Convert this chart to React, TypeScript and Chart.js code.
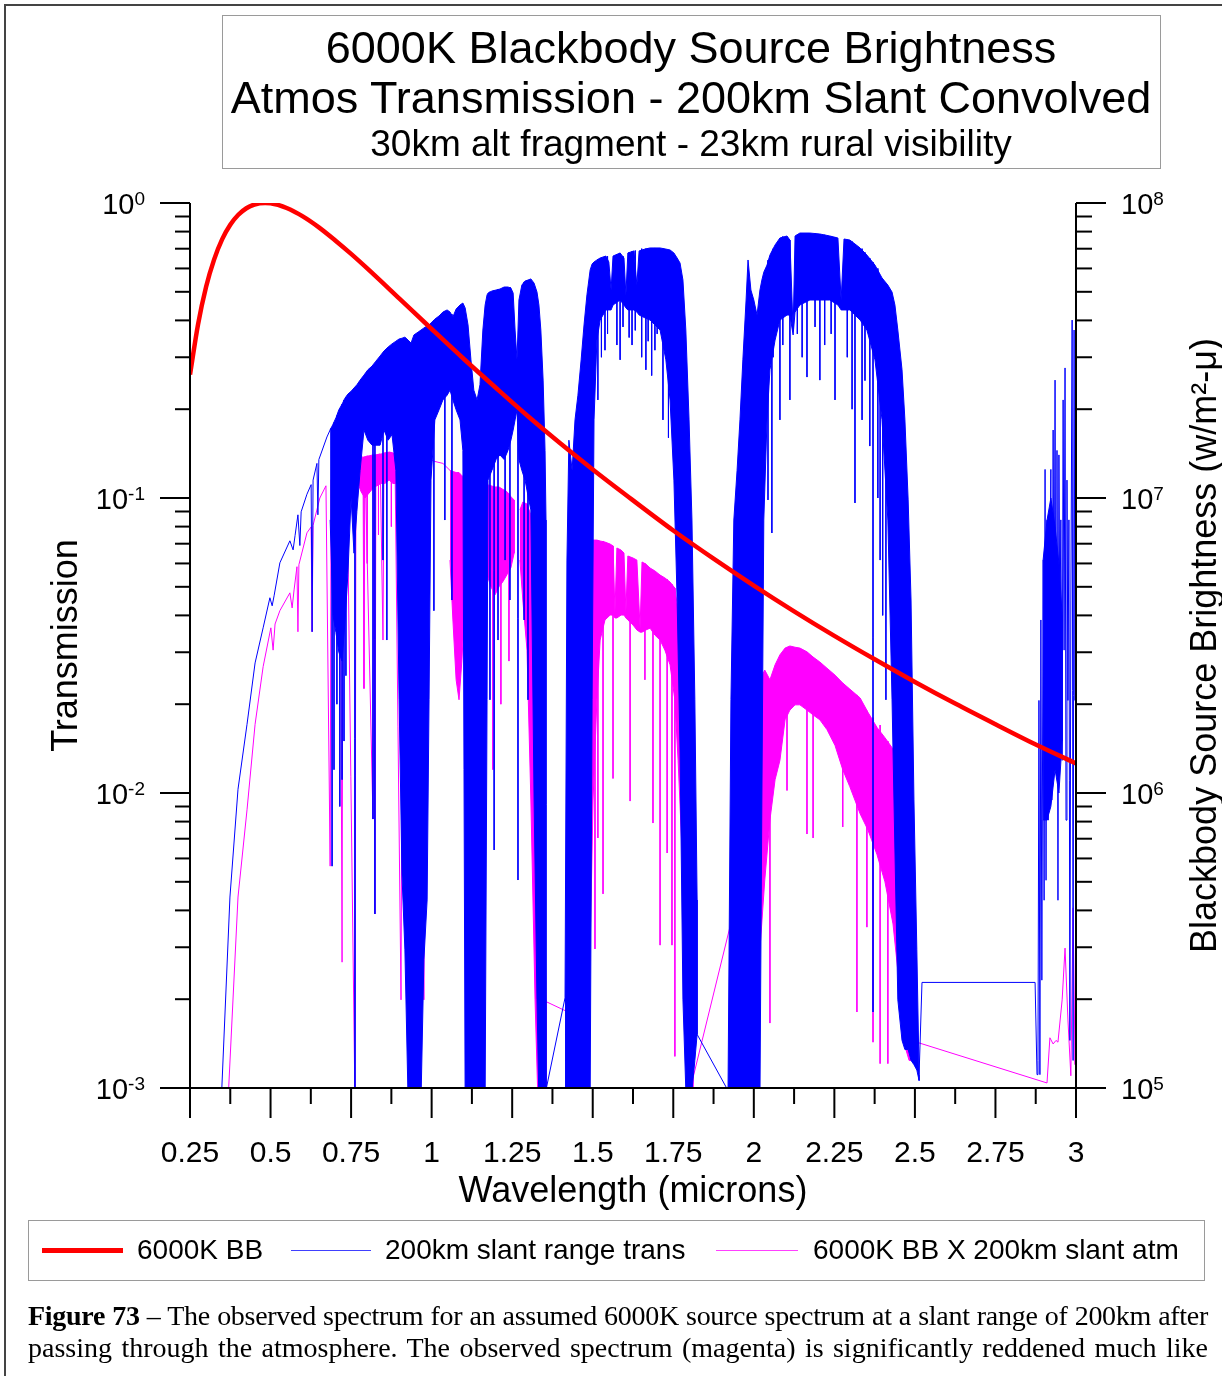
import React, { useEffect, useRef } from 'react';
import { Chart, registerables } from 'chart.js';

Chart.register(...registerables);

const SANS = '"Liberation Sans", Arial, Helvetica, sans-serif';
const SERIF = '"Liberation Serif", "Times New Roman", Times, serif';

// ---------------- data (wavelength in microns) ----------------
// 6000K blackbody brightness (w/m^2-micron), right axis
const bbWavelength = [0.25, 0.275, 0.3, 0.325, 0.35, 0.375, 0.4, 0.425, 0.45, 0.483, 0.5, 0.55, 0.6, 0.65, 0.7, 0.75, 0.8, 0.9, 1.0, 1.1, 1.2, 1.3, 1.4, 1.5, 1.6, 1.75, 1.875, 2.0, 2.125, 2.25, 2.375, 2.5, 2.625, 2.75, 2.875, 3.0];
const bbBrightness = [2.62e7, 3.88e7, 5.2e7, 6.44e7, 7.54e7, 8.44e7, 9.12e7, 9.6e7, 9.88e7, 1.0e8, 9.98e7, 9.62e7, 9.01e7, 8.27e7, 7.48e7, 6.72e7, 6.0e7, 4.74e7, 3.74e7, 2.96e7, 2.36e7, 1.89e7, 1.53e7, 1.25e7, 1.03e7, 7.76e6, 6.23e6, 5.05e6, 4.13e6, 3.41e6, 2.84e6, 2.38e6, 2.01e6, 1.71e6, 1.46e6, 1.26e6];

// 200km slant range transmission: single-line parts [wavelength, T]
const transTrace: ([number, number] | null)[] = [
  [0.347, 0.0009], [0.374, 0.00444], [0.399, 0.0103], [0.427, 0.0171], [0.452, 0.0276],
  [0.477, 0.0363], [0.498, 0.0459], [0.505, 0.0431], [0.511, 0.0466], [0.529, 0.0603],
  [0.56, 0.0716], [0.57, 0.0667], [0.576, 0.0745], [0.585, 0.0877], [0.591, 0.069],
  [0.595, 0.0898], [0.613, 0.103], [0.626, 0.111], [0.629, 0.0352], [0.632, 0.115],
  [0.644, 0.131], [0.647, 0.0877], [0.65, 0.135], [0.675, 0.161], [0.688, 0.173],
  null,
  [1.352, 0.00095], [1.414, 0.00202],
  null,
  [1.824, 0.00152], [1.92, 0.00098],
  null,
  [2.513, 0.00111], [2.522, 0.00228], [2.873, 0.00228], [2.879, 0.00111],
  [2.882, 0.00124], [2.885, 0.0206], [2.888, 0.00111], [2.891, 0.0386], [2.894, 0.00232],
  [2.898, 0.0617], [2.901, 0.00433], [2.904, 0.125], [2.907, 0.00506], [2.91, 0.0843],
  [2.913, 0.00809], [2.916, 0.0451], [2.919, 0.0528], [2.922, 0.125], [2.925, 0.00946],
  [2.929, 0.17], [2.932, 0.0206], [2.935, 0.251], [2.938, 0.0129], [2.941, 0.145],
  [2.944, 0.00433], [2.947, 0.14], [2.95, 0.033], [2.953, 0.0843], [2.957, 0.0129],
  [2.96, 0.215], [2.963, 0.0305], [2.966, 0.276], [2.969, 0.00809], [2.972, 0.115],
  [2.975, 0.0206], [2.978, 0.0843], [2.981, 0.00145], [2.984, 0.0451], [2.988, 0.401],
  [2.991, 0.00124], [2.994, 0.371], [2.997, 0.0206], [3.0, 0.371],
];

// transmission: densely packed absorption-line bands [wavelength, upper T, lower T]
const transBands: ([number, number, number] | null)[] = [
  [0.685, 0.17, 0.0843], [0.694, 0.178, 0.04], [0.703, 0.187, 0.035], [0.712, 0.199, 0.03],
  [0.722, 0.208, 0.028], [0.731, 0.218, 0.038], [0.74, 0.225, 0.055], [0.75, 0.23, 0.1],
  [0.759, 0.236, 0.065], [0.768, 0.242, 0.09], [0.778, 0.251, 0.124], [0.79, 0.261, 0.17],
  [0.802, 0.272, 0.157], [0.815, 0.28, 0.151], [0.827, 0.291, 0.151], [0.84, 0.303, 0.151],
  [0.852, 0.315, 0.17], [0.865, 0.325, 0.157], [0.877, 0.333, 0.164], [0.889, 0.34, 0.124],
  [0.899, 0.346, 0.0207], [0.908, 0.348, 0.00527], [0.917, 0.351, 0.00294], [0.927, 0.343, 0.0009],
  [0.936, 0.335, 0.0009], [0.945, 0.357, 0.0009], [0.958, 0.365, 0.0009], [0.967, 0.371, 0.0009],
  [0.976, 0.377, 0.00272], [0.986, 0.383, 0.00434], [0.992, 0.386, 0.0207], [0.998, 0.392, 0.115],
  [1.01, 0.404, 0.184], [1.023, 0.414, 0.199], [1.035, 0.427, 0.215], [1.048, 0.434, 0.223],
  [1.057, 0.427, 0.232], [1.066, 0.411, 0.215], [1.076, 0.437, 0.199], [1.088, 0.451, 0.184],
  [1.097, 0.458, 0.145], [1.104, 0.441, 0.0009], [1.113, 0.386, 0.0009], [1.122, 0.294, 0.0009],
  [1.131, 0.232, 0.0009], [1.141, 0.215, 0.0009], [1.15, 0.242, 0.0009], [1.159, 0.371, 0.0009],
  [1.166, 0.451, 0.0009], [1.172, 0.488, 0.0207], [1.175, 0.495, 0.115], [1.187, 0.503, 0.124],
  [1.2, 0.507, 0.135], [1.212, 0.511, 0.14], [1.225, 0.519, 0.135], [1.237, 0.519, 0.145],
  [1.246, 0.515, 0.157], [1.253, 0.495, 0.17], [1.259, 0.371, 0.184], [1.265, 0.294, 0.199],
  [1.271, 0.469, 0.135], [1.28, 0.527, 0.124], [1.29, 0.544, 0.115], [1.299, 0.548, 0.102],
  [1.308, 0.553, 0.0911], [1.318, 0.535, 0.00947], [1.327, 0.499, 0.00199], [1.333, 0.451, 0.0009],
  [1.339, 0.371, 0.0009], [1.346, 0.251, 0.0009], [1.352, 0.145, 0.0009], [1.355, 0.0842, 0.0009],
  null,
  [1.414, 0.00202, 0.0009], [1.42, 0.0616, 0.0009], [1.426, 0.157, 0.0009], [1.436, 0.124, 0.0009],
  [1.445, 0.184, 0.0009], [1.454, 0.223, 0.0009], [1.464, 0.294, 0.0009], [1.473, 0.386, 0.0009],
  [1.482, 0.488, 0.0009], [1.492, 0.593, 0.0009], [1.498, 0.621, 0.0207], [1.504, 0.631, 0.184],
  [1.513, 0.641, 0.343], [1.523, 0.651, 0.401], [1.541, 0.661, 0.434], [1.55, 0.631, 0.434],
  [1.557, 0.507, 0.434], [1.563, 0.661, 0.451], [1.585, 0.677, 0.469], [1.597, 0.651, 0.451],
  [1.603, 0.488, 0.441], [1.609, 0.677, 0.434], [1.628, 0.688, 0.434], [1.637, 0.527, 0.427],
  [1.644, 0.688, 0.417], [1.662, 0.698, 0.408], [1.678, 0.704, 0.401], [1.709, 0.704, 0.371],
  [1.727, 0.698, 0.294], [1.74, 0.693, 0.215], [1.752, 0.677, 0.115], [1.762, 0.651, 0.0451],
  [1.771, 0.626, 0.014], [1.78, 0.548, 0.00199], [1.789, 0.371, 0.00098], [1.799, 0.184, 0.00098],
  [1.808, 0.0842, 0.00098], [1.817, 0.0207, 0.00124], [1.824, 0.00434, 0.00152],
  null,
  [1.92, 0.001, 0.0009], [1.929, 0.0207, 0.0009], [1.938, 0.0842, 0.0009], [1.948, 0.124, 0.0009],
  [1.957, 0.184, 0.0009], [1.966, 0.294, 0.0009], [1.976, 0.469, 0.0009], [1.982, 0.641, 0.0009],
  [1.991, 0.507, 0.0009], [2.0, 0.469, 0.0009], [2.01, 0.417, 0.0009], [2.019, 0.507, 0.0009],
  [2.025, 0.548, 0.00947], [2.031, 0.583, 0.0842], [2.041, 0.616, 0.184], [2.05, 0.666, 0.272],
  [2.066, 0.721, 0.343], [2.081, 0.761, 0.401], [2.103, 0.773, 0.417], [2.112, 0.749, 0.417],
  [2.122, 0.371, 0.357], [2.128, 0.773, 0.427], [2.143, 0.791, 0.451], [2.174, 0.791, 0.469],
  [2.205, 0.785, 0.469], [2.236, 0.773, 0.469], [2.261, 0.761, 0.451], [2.271, 0.469, 0.434],
  [2.28, 0.755, 0.434], [2.298, 0.749, 0.434], [2.33, 0.704, 0.401], [2.351, 0.666, 0.371],
  [2.376, 0.616, 0.294], [2.398, 0.557, 0.184], [2.416, 0.527, 0.0842], [2.429, 0.499, 0.0207],
  [2.438, 0.451, 0.00641], [2.447, 0.371, 0.00199], [2.46, 0.272, 0.00145], [2.469, 0.184, 0.00135],
  [2.479, 0.0985, 0.00135], [2.488, 0.0451, 0.00124], [2.497, 0.00947, 0.0012], [2.506, 0.00294, 0.00115],
  [2.513, 0.00111, 0.00106],
  null,
  [2.898, 0.0617, 0.0081], [2.91, 0.084, 0.0081], [2.922, 0.1, 0.009], [2.935, 0.08, 0.012],
  [2.947, 0.06, 0.01], [2.957, 0.04, 0.015],
];

// transmission: isolated deep absorption lines [wavelength, from T, to T]
const transLines: [number, number, number][] = [
  [0.691, 0.173, 0.00565], [0.697, 0.18, 0.012], [0.706, 0.19, 0.02], [0.715, 0.2, 0.009],
  [0.722, 0.208, 0.0111], [0.728, 0.215, 0.015], [0.734, 0.22, 0.025], [0.762, 0.236, 0.0009],
  [0.818, 0.28, 0.00816], [0.824, 0.283, 0.00389], [0.849, 0.31, 0.0616], [0.861, 0.32, 0.033],
  [1.007, 0.4, 0.0415], [1.041, 0.43, 0.0842], [1.063, 0.42, 0.0451], [1.181, 0.5, 0.0207],
  [1.194, 0.505, 0.00641], [1.206, 0.51, 0.033], [1.228, 0.519, 0.0616], [1.243, 0.519, 0.0451],
  [1.268, 0.3, 0.00507], [1.287, 0.54, 0.0386], [1.299, 0.548, 0.0207],
  [1.516, 0.645, 0.215], [1.527, 0.65, 0.3], [1.538, 0.66, 0.317], [1.546, 0.66, 0.36],
  [1.575, 0.67, 0.33], [1.585, 0.677, 0.294], [1.594, 0.66, 0.38], [1.613, 0.68, 0.35],
  [1.622, 0.685, 0.33], [1.632, 0.69, 0.37], [1.652, 0.7, 0.3], [1.665, 0.7, 0.272],
  [1.672, 0.7, 0.34], [1.683, 0.7, 0.26], [1.693, 0.704, 0.317], [1.7, 0.7, 0.36],
  [1.718, 0.7, 0.184], [1.735, 0.69, 0.16],
  [2.044, 0.64, 0.0985], [2.056, 0.68, 0.0761], [2.06, 0.7, 0.3], [2.081, 0.761, 0.184],
  [2.09, 0.77, 0.33], [2.112, 0.749, 0.215], [2.135, 0.78, 0.36], [2.15, 0.79, 0.3],
  [2.165, 0.791, 0.257], [2.19, 0.79, 0.38], [2.205, 0.785, 0.251], [2.22, 0.78, 0.33],
  [2.24, 0.77, 0.36], [2.252, 0.765, 0.215], [2.29, 0.75, 0.3], [2.305, 0.74, 0.2],
  [2.314, 0.725, 0.0962], [2.336, 0.7, 0.184], [2.345, 0.68, 0.25], [2.36, 0.65, 0.15],
  [2.37, 0.63, 0.00181], [2.385, 0.6, 0.1], [2.392, 0.565, 0.0616], [2.4, 0.55, 0.04],
  [2.41, 0.53, 0.0207],
];

// 6000K BB x 200km slant atm (left-axis units): single-line parts
const obsTrace: ([number, number] | null)[] = [
  [0.368, 0.0009], [0.399, 0.00444], [0.427, 0.00877], [0.452, 0.0171], [0.477, 0.0268],
  [0.501, 0.0363], [0.508, 0.0305], [0.514, 0.0374], [0.529, 0.0415], [0.56, 0.0477],
  [0.567, 0.0424], [0.573, 0.0488], [0.582, 0.0585], [0.585, 0.0352], [0.588, 0.0594],
  [0.613, 0.0762], [0.626, 0.0798], [0.629, 0.0352], [0.632, 0.0808], [0.653, 0.1],
  [0.672, 0.11], [0.685, 0.00565], [0.688, 0.115], [0.694, 0.119], [0.716, 0.125],
  [0.722, 0.00267], [0.725, 0.126], [0.737, 0.131], [0.762, 0.0009], [0.765, 0.132],
  [0.787, 0.138], [0.79, 0.0226], [0.793, 0.138], [0.818, 0.00816], [0.821, 0.14],
  [0.824, 0.00389], [0.827, 0.14], [0.84, 0.141], [0.849, 0.033], [0.852, 0.142],
  [0.871, 0.143], [0.886, 0.141], [0.905, 0.00199], [0.911, 0.139], [0.914, 0.00507],
  [0.92, 0.139], [0.948, 0.0009], [0.955, 0.138], [0.958, 0.00134], [0.964, 0.137],
  [0.976, 0.00199], [0.982, 0.137], [0.989, 0.136], [1.01, 0.133], [1.035, 0.131], [1.057, 0.124],
  null,
  [1.352, 0.00197], [1.414, 0.00183],
  null,
  [1.811, 0.00108], [1.935, 0.00386],
  null,
  [2.488, 0.00145], [2.91, 0.00104], [2.919, 0.00148], [2.929, 0.00141], [2.938, 0.00145],
  [2.944, 0.00143], [2.957, 0.00199], [2.966, 0.00298], [2.975, 0.0017], [2.984, 0.0011],
  [2.991, 0.00408], [2.997, 0.0012], [3.0, 0.00434],
];

// observed spectrum: dense bands [wavelength, upper, lower]
const obsBands: ([number, number, number] | null)[] = [
  [0.768, 0.132, 0.115], [0.781, 0.136, 0.105], [0.793, 0.138, 0.1], [0.806, 0.139, 0.104],
  [0.818, 0.14, 0.108], [0.83, 0.14, 0.11], [0.843, 0.141, 0.112], [0.855, 0.142, 0.112],
  [0.868, 0.143, 0.115], [0.88, 0.142, 0.112], [0.889, 0.14, 0.112],
  null,
  [1.057, 0.124, 0.0616], [1.066, 0.123, 0.0386], [1.076, 0.122, 0.0242], [1.085, 0.122, 0.0207],
  [1.094, 0.119, 0.0282], [1.104, 0.117, 0.0451], [1.11, 0.115, 0.0616],
  null,
  [1.172, 0.111, 0.055], [1.184, 0.11, 0.05], [1.197, 0.109, 0.047], [1.209, 0.109, 0.05],
  [1.221, 0.107, 0.052], [1.234, 0.105, 0.055], [1.246, 0.101, 0.058], [1.256, 0.0985, 0.065],
  null,
  [1.274, 0.0911, 0.0616], [1.283, 0.0969, 0.0451], [1.296, 0.0954, 0.0305], [1.308, 0.0876, 0.00947],
  [1.321, 0.072, 0.00199], [1.33, 0.0451, 0.0009], [1.343, 0.0207, 0.0009], [1.355, 0.00199, 0.0009],
  null,
  [1.476, 0.00434, 0.0009], [1.482, 0.0265, 0.0009], [1.492, 0.0616, 0.00294], [1.501, 0.072, 0.00947],
  [1.513, 0.072, 0.0207], [1.523, 0.0715, 0.033], [1.538, 0.0709, 0.0386], [1.554, 0.0698, 0.0401],
  [1.563, 0.0688, 0.0401], [1.569, 0.0411, 0.0392], [1.575, 0.0677, 0.0392], [1.588, 0.0666, 0.0401],
  [1.597, 0.0651, 0.0401], [1.603, 0.0411, 0.0392], [1.609, 0.0636, 0.0386], [1.625, 0.0626, 0.0371],
  [1.637, 0.0616, 0.0357], [1.647, 0.0362, 0.0351], [1.653, 0.0607, 0.0351], [1.665, 0.0597, 0.0357],
  [1.678, 0.0579, 0.0362], [1.693, 0.0566, 0.0343], [1.709, 0.0548, 0.033], [1.724, 0.0536, 0.0305],
  [1.74, 0.0519, 0.0272], [1.755, 0.0495, 0.0207], [1.765, 0.0411, 0.0129], [1.777, 0.0242, 0.00641],
  [1.789, 0.00947, 0.00199], [1.802, 0.00294, 0.001], [1.811, 0.00111, 0.0009],
  null,
  [1.988, 0.0325, 0.0009], [1.997, 0.0282, 0.0009], [2.007, 0.0305, 0.0009], [2.019, 0.0242, 0.00294],
  [2.034, 0.0261, 0.00507], [2.05, 0.0242, 0.0081], [2.066, 0.0272, 0.0111], [2.081, 0.0294, 0.0129],
  [2.097, 0.031, 0.0177], [2.112, 0.0315, 0.0191], [2.128, 0.0312, 0.0199], [2.143, 0.031, 0.0199],
  [2.165, 0.0301, 0.0191], [2.184, 0.0289, 0.0184], [2.205, 0.0278, 0.0177], [2.227, 0.0265, 0.0164],
  [2.252, 0.0251, 0.0145], [2.276, 0.0236, 0.012], [2.298, 0.0225, 0.0105], [2.33, 0.021, 0.0085],
  [2.354, 0.0188, 0.0075], [2.382, 0.0167, 0.0062], [2.407, 0.0154, 0.005], [2.432, 0.0141, 0.0036],
  [2.447, 0.0129, 0.0025], [2.463, 0.0112, 0.0017], [2.472, 0.00641, 0.00135], [2.482, 0.00199, 0.00124],
  [2.488, 0.00145, 0.00124],
];

// observed spectrum: isolated deep lines [wavelength, from, to]
const obsLines: [number, number, number][] = [
  [1.507, 0.072, 0.00296], [1.516, 0.072, 0.00704], [1.532, 0.0715, 0.00455], [1.563, 0.0688, 0.0112],
  [1.616, 0.063, 0.00939], [1.662, 0.06, 0.0242], [1.687, 0.057, 0.00791], [1.709, 0.0548, 0.00305],
  [1.731, 0.053, 0.00626], [1.746, 0.051, 0.00305], [1.755, 0.0495, 0.00128], [2.05, 0.0242, 0.00166],
  [2.103, 0.031, 0.0102], [2.165, 0.03, 0.00726], [2.184, 0.0289, 0.00704], [2.276, 0.0236, 0.00767],
  [2.32, 0.0215, 0.00181], [2.351, 0.019, 0.00351], [2.37, 0.018, 0.00143], [2.392, 0.017, 0.00121],
  [2.416, 0.015, 0.00121], [1.19, 0.109, 0.012], [1.215, 0.108, 0.02], [1.24, 0.103, 0.028],
  [0.80, 0.139, 0.06], [0.835, 0.14, 0.075], [0.875, 0.142, 0.08],
];

// axis ticks
const xTickValues = [0.25, 0.5, 0.75, 1, 1.25, 1.5, 1.75, 2, 2.25, 2.5, 2.75, 3];
const xTickLabels = ['0.25', '0.5', '0.75', '1', '1.25', '1.5', '1.75', '2', '2.25', '2.5', '2.75', '3'];
const yTickExponents = [0, -1, -2, -3];
const y2TickExponents = [8, 7, 6, 5];

const RED = '#ff0000';
const BLUE = '#0000ff';
const MAGENTA = '#ff00ff';

function traceData(rows: ([number, number] | null)[]) {
  const out: { x: number; y: number | null }[] = [];
  let lastX = 0;
  for (const r of rows) {
    if (r) { out.push({ x: r[0], y: r[1] }); lastX = r[0]; }
    else out.push({ x: lastX, y: null });
  }
  return out;
}

function bandData(rows: ([number, number, number] | null)[]) {
  const out: { x: number; y: number | null }[] = [];
  let group: [number, number, number][] = [];
  const flush = () => {
    if (!group.length) return;
    for (const g of group) out.push({ x: g[0], y: g[1] });
    for (let i = group.length - 1; i >= 0; i--) out.push({ x: group[i][0], y: group[i][2] });
    out.push({ x: group[0][0], y: null });
    group = [];
  };
  for (const r of rows) { if (r) group.push(r); else flush(); }
  flush();
  return out;
}

function lineData(rows: [number, number, number][]) {
  const out: { x: number; y: number | null }[] = [];
  for (const r of rows) {
    out.push({ x: r[0], y: r[1] }, { x: r[0], y: r[2] }, { x: r[0], y: null });
  }
  return out;
}

const decorPlugin = {
  id: 'decor',
  afterDatasetsDraw(chart: any) {
    const ctx = chart.ctx;
    const a = chart.chartArea;
    const xs = chart.scales.x;
    const ys = chart.scales.y;
    const yr = chart.scales.y2;
    ctx.save();
    ctx.strokeStyle = '#000';
    ctx.fillStyle = '#000';
    ctx.lineWidth = 2;
    ctx.lineCap = 'butt';
    const seg = (x1: number, y1: number, x2: number, y2: number) => {
      ctx.beginPath(); ctx.moveTo(x1, y1); ctx.lineTo(x2, y2); ctx.stroke();
    };
    // axis lines
    seg(a.left, a.top, a.left, a.bottom + 1);
    seg(a.left - 1, a.bottom, a.right + 1, a.bottom);
    seg(a.right, a.top, a.right, a.bottom + 1);

    // left log ticks
    for (let e = -3; e <= 0; e++) {
      for (let m = 1; m <= 9; m++) {
        if (e === 0 && m > 1) break;
        const py = ys.getPixelForValue(m * Math.pow(10, e));
        seg(a.left - (m === 1 ? 30 : 15), py, a.left, py);
      }
    }
    // right log ticks
    for (let e = 5; e <= 8; e++) {
      for (let m = 1; m <= 9; m++) {
        if (e === 8 && m > 1) break;
        const py = yr.getPixelForValue(m * Math.pow(10, e));
        seg(a.right, py, a.right + (m === 1 ? 30 : 16), py);
      }
    }
    // x ticks
    for (let i = 0; i < xTickValues.length; i++) {
      const px = xs.getPixelForValue(xTickValues[i]);
      seg(px, a.bottom, px, a.bottom + 30);
      if (i < xTickValues.length - 1) {
        const pm = xs.getPixelForValue((xTickValues[i] + xTickValues[i + 1]) / 2);
        seg(pm, a.bottom, pm, a.bottom + 16);
      }
    }

    // x tick labels
    ctx.font = '30px ' + SANS;
    ctx.textAlign = 'center';
    ctx.textBaseline = 'alphabetic';
    for (let i = 0; i < xTickValues.length; i++) {
      ctx.fillText(xTickLabels[i], xs.getPixelForValue(xTickValues[i]), a.bottom + 74);
    }

    // power-of-ten labels
    const baseFont = '29px ' + SANS;
    const expFont = '19px ' + SANS;
    ctx.textAlign = 'left';
    for (const e of yTickExponents) {
      const py = ys.getPixelForValue(Math.pow(10, e));
      ctx.font = baseFont; const wb = ctx.measureText('10').width;
      ctx.font = expFont; const we = ctx.measureText(String(e)).width;
      const x0 = a.left - 45 - wb - we;
      ctx.font = baseFont; ctx.fillText('10', x0, py + 11);
      ctx.font = expFont; ctx.fillText(String(e), x0 + wb, py + 2);
    }
    for (const e of y2TickExponents) {
      const py = yr.getPixelForValue(Math.pow(10, e));
      ctx.font = baseFont; const wb = ctx.measureText('10').width;
      const x0 = a.right + 45;
      ctx.fillText('10', x0, py + 11);
      ctx.font = expFont; ctx.fillText(String(e), x0 + wb, py + 2);
    }

    // axis titles
    ctx.font = '36px ' + SANS;
    ctx.textAlign = 'center';
    ctx.fillText('Wavelength (microns)', (a.left + a.right) / 2, a.bottom + 114);
    const cy = (a.top + a.bottom) / 2;
    ctx.save();
    ctx.translate(77, cy);
    ctx.rotate(-Math.PI / 2);
    ctx.fillText('Transmission', 0, 0);
    ctx.restore();
    ctx.save();
    ctx.translate(1216, cy);
    ctx.rotate(-Math.PI / 2);
    ctx.fillText('Blackbody Source Brightness (w/m\u00B2-\u03BC)', 0, 0);
    ctx.restore();
    ctx.restore();
  },
};

export default function App() {
  const ref = useRef<HTMLCanvasElement | null>(null);

  useEffect(() => {
    const canvas = ref.current;
    if (!canvas) return;
    const common = { pointRadius: 0, pointHoverRadius: 0, spanGaps: false, tension: 0 };
    const chart = new Chart(canvas, {
      type: 'line',
      data: {
        datasets: [
          {
            label: '6000K BB',
            data: bbWavelength.map((w, i) => ({ x: w, y: bbBrightness[i] })),
            yAxisID: 'y2', borderColor: RED, borderWidth: 4.5, fill: false,
            cubicInterpolationMode: 'monotone', pointRadius: 0, order: 0,
          },
          { ...common, label: '200km slant range trans', data: traceData(transTrace), yAxisID: 'y', borderColor: BLUE, borderWidth: 1, fill: false, order: 1 },
          { ...common, label: 'trans bands', data: bandData(transBands), yAxisID: 'y', borderColor: BLUE, backgroundColor: BLUE, borderWidth: 1, fill: 'shape', order: 2 },
          { ...common, label: 'trans lines', data: lineData(transLines), yAxisID: 'y', borderColor: BLUE, borderWidth: 1, fill: false, order: 3 },
          { ...common, label: '6000K BB X 200km slant atm', data: traceData(obsTrace), yAxisID: 'y', borderColor: MAGENTA, borderWidth: 1, fill: false, order: 4 },
          { ...common, label: 'obs bands', data: bandData(obsBands), yAxisID: 'y', borderColor: MAGENTA, backgroundColor: MAGENTA, borderWidth: 1, fill: 'shape', order: 5 },
          { ...common, label: 'obs lines', data: lineData(obsLines), yAxisID: 'y', borderColor: MAGENTA, borderWidth: 1, fill: false, order: 6 },
        ] as any,
      },
      options: {
        animation: false,
        responsive: false,
        devicePixelRatio: 1,
        events: [],
        layout: { padding: { left: 0, right: 0, top: 203, bottom: 166 } },
        plugins: { legend: { display: false }, tooltip: { enabled: false }, title: { display: false } },
        scales: {
          x: {
            type: 'linear', min: 0.25, max: 3, position: 'bottom',
            grid: { display: false }, border: { display: false }, ticks: { display: false },
            afterFit: (s: any) => { s.height = 122; },
          },
          y: {
            type: 'logarithmic', min: 0.001, max: 1, position: 'left',
            grid: { display: false }, border: { display: false }, ticks: { display: false },
            afterFit: (s: any) => { s.width = 190; },
          },
          y2: {
            type: 'logarithmic', min: 1e5, max: 1e8, position: 'right',
            grid: { display: false }, border: { display: false }, ticks: { display: false },
            afterFit: (s: any) => { s.width = 146; },
          },
        },
      } as any,
      plugins: [decorPlugin],
    });
    return () => chart.destroy();
  }, []);

  const titleLine = (text: string, top: number, size: number) => (
    <div style={{ position: 'absolute', left: 222, width: 938, top, fontSize: size, lineHeight: size + 'px', textAlign: 'center', fontFamily: SANS, whiteSpace: 'nowrap', color: '#000' }}>{text}</div>
  );
  const legendText = (text: string, left: number) => (
    <div style={{ position: 'absolute', left, top: 1236, fontSize: 28, lineHeight: '28px', fontFamily: SANS, whiteSpace: 'nowrap', color: '#000' }}>{text}</div>
  );

  return (
    <div style={{ position: 'absolute', left: 0, top: 0, width: 1222, height: 1376, overflow: 'hidden', background: '#fff' }}>
      <div style={{ position: 'absolute', left: 4, top: 4, width: 1260, height: 1420, borderTop: '2px solid #444', borderLeft: '2px solid #444' }} />
      <canvas ref={ref} width={1222} height={1376} style={{ position: 'absolute', left: 0, top: 0, width: 1222, height: 1376 }} />

      <div style={{ position: 'absolute', left: 222, top: 15, width: 939, height: 154, border: '1px solid #9a9a9a', boxSizing: 'border-box' }} />
      {titleLine('6000K Blackbody Source Brightness', 25, 45)}
      {titleLine('Atmos Transmission - 200km Slant Convolved', 75, 45)}
      {titleLine('30km alt fragment - 23km rural visibility', 125, 37)}

      <div style={{ position: 'absolute', left: 28, top: 1220, width: 1177, height: 61, border: '1px solid #9a9a9a', boxSizing: 'border-box' }} />
      <div style={{ position: 'absolute', left: 42, top: 1248, width: 81, height: 5, background: RED }} />
      {legendText('6000K BB', 137)}
      <div style={{ position: 'absolute', left: 291, top: 1250, width: 80, height: 1, background: 'rgba(0,0,255,0.75)' }} />
      {legendText('200km slant range trans', 385)}
      <div style={{ position: 'absolute', left: 716, top: 1250, width: 82, height: 1, background: 'rgba(255,0,255,0.75)' }} />
      {legendText('6000K BB X 200km slant atm', 813)}

      <div style={{ position: 'absolute', left: 28, top: 1300, width: 1180, fontFamily: SERIF, fontSize: 28, lineHeight: '32px', textAlign: 'justify', textAlignLast: 'justify', letterSpacing: '-0.3px', color: '#000' } as any}>
        <b>Figure 73</b> – The observed spectrum for an assumed 6000K source spectrum at a slant range of 200km after
      </div>
      <div style={{ position: 'absolute', left: 28, top: 1332, width: 1180, fontFamily: SERIF, fontSize: 28, lineHeight: '32px', textAlign: 'justify', textAlignLast: 'justify', color: '#000' } as any}>
        passing through the atmosphere. The observed spectrum (magenta) is significantly reddened much like
      </div>
    </div>
  );
}
